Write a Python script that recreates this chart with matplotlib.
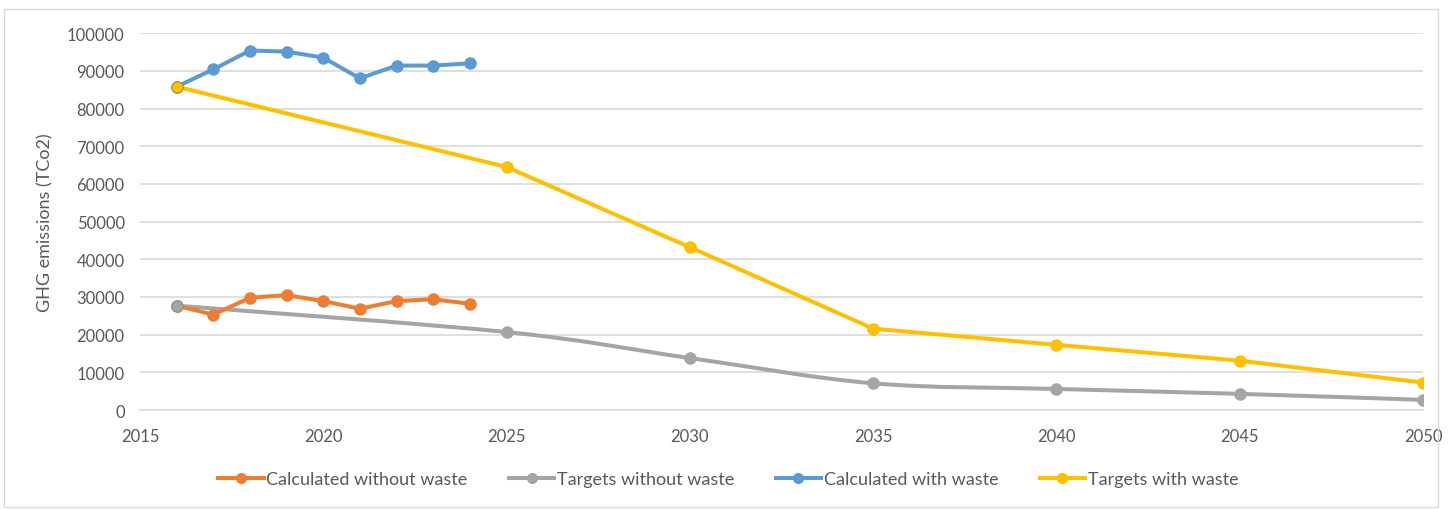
import numpy as np
import matplotlib.pyplot as plt
from matplotlib.path import Path
from matplotlib.patches import PathPatch, Rectangle
from matplotlib.lines import Line2D

# --- DATA ---
years_calc = [2016, 2017, 2018, 2019, 2020, 2021, 2022, 2023, 2024]
calc_without_waste = [27700, 25300, 29800, 30500, 28900, 26900, 28900, 29400, 28200]
calc_with_waste = [85800, 90400, 95400, 95100, 93500, 88000, 91400, 91400, 92000]

years_target = [2016, 2025, 2030, 2035, 2040, 2045, 2050]
targets_without_waste = [27700, 20700, 13800, 7100, 5600, 4300, 2700]
targets_with_waste = [85800, 64500, 43200, 21600, 17300, 13100, 7300]

series_names = ["Calculated without waste", "Targets without waste",
                "Calculated with waste", "Targets with waste"]
colors = ["#ED7D31", "#A5A5A5", "#5B9BD5", "#FFC000"]

txt = "#595959"
grid_c = "#D9D9D9"
plt.rcParams['font.family'] = ['Lato', 'DejaVu Sans']
fs = 12
fs_text = 13


def smooth_path(ax, xs, ys):
    # Excel-like smoothed line: cubic bezier through the points
    x = np.asarray(xs, float)
    y = np.asarray(ys, float)
    p = ax.transData.transform(np.column_stack([x, y]))
    verts = [p[0]]
    codes = [Path.MOVETO]
    n = len(p)
    for i in range(n - 1):
        p0 = p[i - 1] if i > 0 else p[i]
        p1, p2 = p[i], p[i + 1]
        p3 = p[i + 2] if i + 2 < n else p[i + 1]
        c1 = p1 + (p2 - p0) / 6.0
        c2 = p2 - (p3 - p1) / 6.0
        verts += [c1, c2, p2]
        codes += [Path.CURVE4] * 3
    verts = ax.transData.inverted().transform(np.array(verts))
    return Path(verts, codes)


fig = plt.figure(figsize=(14.48, 5.10), dpi=100)
ax = fig.add_axes([0.0967, 0.194, 0.886, 0.739])
ax.set_xlim(2015, 2050)
ax.set_ylim(0, 100000)
ax.set_xticks(range(2015, 2051, 5))
ax.set_yticks(range(0, 100001, 10000))
ax.yaxis.grid(True, color=grid_c, lw=1.2)
ax.set_axisbelow(True)
for s in ["top", "right", "left"]:
    ax.spines[s].set_visible(False)
ax.spines["bottom"].set_color(grid_c)
ax.spines["bottom"].set_linewidth(1.2)
ax.tick_params(length=0, labelsize=fs, colors=txt)
ax.tick_params(axis="y", pad=11)
ax.tick_params(axis="x", pad=13)
ax.set_ylabel("GHG emissions (TCo2)", fontsize=fs_text, color=txt, labelpad=10)

lw = 2.9
ms = 8

# grey target line is smoothed, yellow one is straight
path = smooth_path(ax, years_target, targets_without_waste)
ax.add_patch(PathPatch(path, fill=False, edgecolor=colors[1], lw=lw,
                       capstyle="round", joinstyle="round", zorder=2))
ax.plot(years_target, targets_without_waste, ls="none", marker="o", ms=ms,
        color=colors[1], zorder=3)
ax.plot(years_target, targets_with_waste, color=colors[3], lw=lw, marker="o",
        ms=ms, zorder=3)

ax.plot(years_calc, calc_without_waste, color=colors[0], lw=lw, marker="o",
        ms=ms, zorder=4)
ax.plot(years_calc, calc_with_waste, color=colors[2], lw=lw, marker="o",
        ms=ms, zorder=4)
# first point of the target series sits on top
ax.plot(years_target[:1], targets_with_waste[:1], ls="none", marker="o",
        ms=ms, color=colors[3], mec="#BF9000", mew=0.6, zorder=5)
ax.plot(years_target[:1], targets_without_waste[:1], ls="none", marker="o",
        ms=ms, color=colors[1], mec="#8C8C8C", mew=0.6, zorder=5)

handles = [Line2D([], [], color=c, lw=lw, marker="o", ms=ms - 1) for c in colors]
fig.legend(handles, series_names, loc="center", bbox_to_anchor=(0.503, 0.059),
           ncol=4, frameon=False, fontsize=fs_text, labelcolor=txt,
           handlelength=2.5, handletextpad=0.15, columnspacing=2.3)

fig.add_artist(Rectangle((0.003, 0.004), 0.99, 0.976, transform=fig.transFigure,
                         fill=False, edgecolor=grid_c, lw=1.0))

fig.savefig("out.png", dpi=100)
